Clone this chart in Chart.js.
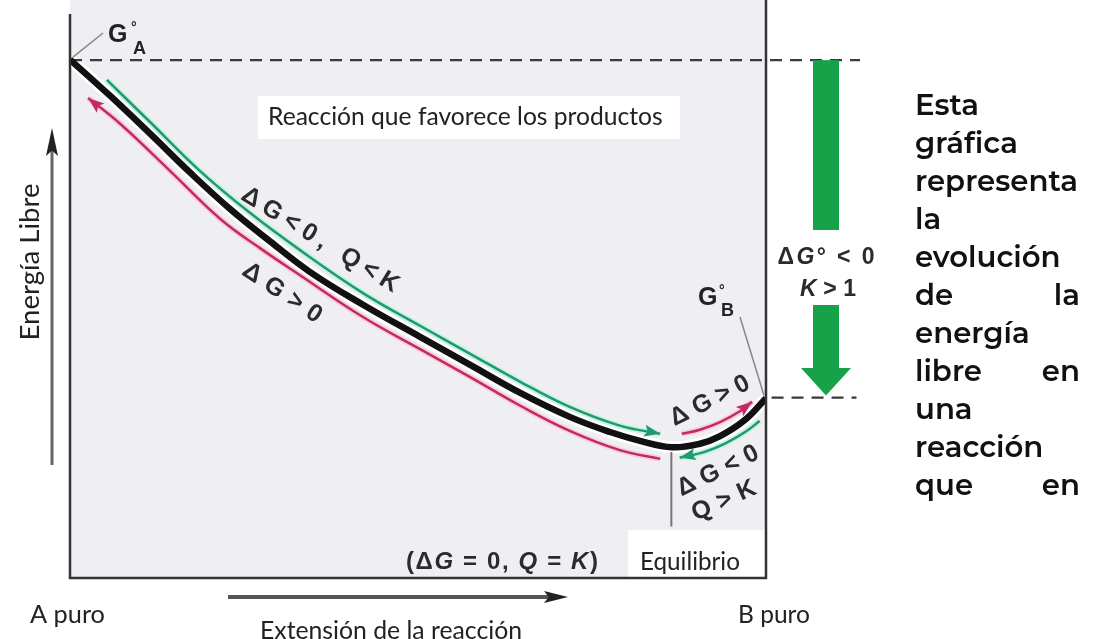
<!DOCTYPE html>
<html><head><meta charset="utf-8">
<script src="https://cdn.jsdelivr.net/npm/chart.js@4.4.1/dist/chart.umd.min.js"></script>
<style>html,body{margin:0;padding:0;background:#fff;overflow:hidden}#wrap{width:1097px;height:639px}</style>
</head><body><div id="wrap"><canvas id="c" width="1097" height="639"></canvas></div>
<script>
// ---- data (x = extensión de la reacción 0..100, y = energía libre, arbitrary units) ----
const extent      = [0, 5.75, 11.5, 17.2, 23.0, 28.7, 34.5, 42.1, 50.3, 57.5, 64.7, 71.8, 77.6, 81.9, 86.5, 90.5, 93.4, 97.0, 100];
const freeEnergy  = [92.2, 86.0, 79.5, 72.9, 66.6, 61.1, 55.8, 50.2, 44.7, 39.9, 35.1, 31.0, 28.4, 26.9, 25.8, 26.4, 27.7, 30.5, 34.2];
const fwdExtent   = [5.3, 11.5, 18.7, 25.9, 33.0, 42.1, 50.3, 57.5, 64.7, 71.8, 79.0, 84.8];
const fwdEnergy   = [88.7, 81.5, 73.1, 65.9, 59.6, 52.2, 46.6, 41.8, 37.0, 32.7, 29.5, 28.1];
const revExtent   = [2.6, 7.2, 14.4, 21.6, 27.3, 33.0, 42.1, 50.3, 57.5, 64.7, 71.8, 79.0, 84.8];
const revEnergy   = [85.6, 81.2, 73.1, 64.9, 59.9, 55.3, 48.1, 42.6, 37.8, 32.9, 28.6, 25.3, 23.8];
const upExtent    = [87.9, 90.5, 93.4, 96.3, 98.0];
const upEnergy    = [28.1, 28.8, 30.1, 32.0, 33.6];
const backExtent  = [99.1, 97.0, 94.1, 91.2, 87.6];
const backEnergy  = [30.3, 28.4, 26.4, 25.0, 24.0];
const eqExtent    = [86.4, 86.4];
const eqEnergy    = [25.0, 12.2];
const GA = 92.1, GB = 34.3;
const refLineA = [0, 113.5];
const refLineB = [100.8, 113.0];
const xAxisRange = [0, 100];
const yAxisRange = [3.4, 100];

const pts = (xs, ys) => xs.map((x, i) => ({x, y: ys[i]}));
const line = (data, color, width, extra) => Object.assign({
  data, borderColor: color, backgroundColor: color, borderWidth: width, showLine: true,
  pointRadius: 0, pointHoverRadius: 0, tension: 0.4, fill: false
}, extra || {});

const GREEN = '#1f9a6e', PINK = '#c42a62';
const datasets = [
  line(pts(extent, freeEnergy), '#111111', 6.5, {order: 1}),
  line(pts(fwdExtent, fwdEnergy), GREEN, 2.5, {order: 2, arrow: 'end'}),
  line(pts(revExtent, revEnergy), PINK, 2.5, {order: 2, arrow: 'start'}),
  line(pts(upExtent, upEnergy), PINK, 2.5, {order: 2, arrow: 'end'}),
  line(pts(backExtent, backEnergy), GREEN, 2.5, {order: 2, arrow: 'end'}),
  line(pts(eqExtent, eqEnergy), '#777777', 2, {order: 3, tension: 0}),
  line([{x: refLineA[0], y: GA}, {x: refLineA[1], y: GA}], '#3a3a3a', 2.2, {order: 4, tension: 0, borderDash: [12, 8], clip: false}),
  line([{x: refLineB[0], y: GB}, {x: refLineB[1], y: GB}], '#3a3a3a', 2.2, {order: 4, tension: 0, borderDash: [12, 8], clip: false}),
  line(pts(fwdExtent, fwdEnergy), '#c8f2e2', 6, {order: 8}),
  line(pts(revExtent, revEnergy), '#f6d0dc', 6, {order: 8}),
  line(pts(upExtent, upEnergy), '#f6d0dc', 6, {order: 8}),
  line(pts(backExtent, backEnergy), '#c8f2e2', 6, {order: 8}),
  line(pts(extent, freeEnergy), '#ffffff', 12, {order: 10})
];

const HUM = "Lato, 'Open Sans', sans-serif";
const ARI = "'Liberation Sans', Arial, sans-serif";
const PARA = "Montserrat, 'Noto Sans', sans-serif";

function fit(ctx, text, fontFn, target) { ctx.font = fontFn(20); return 20 * target / ctx.measureText(text).width; }
function plain(ctx, text, x, y, fontFn, target, align, ang) {
  const s = fit(ctx, text, fontFn, target);
  ctx.save(); ctx.translate(x, y); if (ang) ctx.rotate(ang * Math.PI / 180);
  ctx.font = fontFn(s); ctx.fillStyle = '#222'; ctx.textAlign = align || 'left'; ctx.textBaseline = 'middle';
  ctx.fillText(text, 0, 0); ctx.restore();
}
function spaced(ctx, str, cx, cy, ang, total, size, color, italics) {
  ctx.save(); ctx.translate(cx, cy); ctx.rotate(ang * Math.PI / 180);
  ctx.fillStyle = color; ctx.textBaseline = 'middle'; ctx.textAlign = 'left';
  const chars = [...str];
  const fonts = chars.map(c => ((italics || '').includes(c) ? 'italic ' : '') + 'bold ' + size + 'px ' + ARI);
  const ws = chars.map((c, i) => { ctx.font = fonts[i]; return ctx.measureText(c).width; });
  const sum = ws.reduce((a, b) => a + b, 0);
  const T = total || sum;
  const sp = chars.length > 1 ? (T - sum) / (chars.length - 1) : 0;
  let x = -T / 2;
  chars.forEach((c, i) => { ctx.font = fonts[i]; ctx.fillText(c, x, 0); x += ws[i] + sp; });
  ctx.restore();
}
function head(ctx, tip, from, color, len, half) {
  const a = Math.atan2(tip.y - from.y, tip.x - from.x);
  ctx.save(); ctx.translate(tip.x, tip.y); ctx.rotate(a);
  ctx.fillStyle = color; ctx.beginPath(); ctx.moveTo(0, 0); ctx.lineTo(-len, -half); ctx.lineTo(-len * 0.8, 0); ctx.lineTo(-len, half); ctx.closePath(); ctx.fill();
  ctx.restore();
}

const deco = {
  id: 'deco',
  beforeDraw(chart) {
    const {ctx, chartArea: a} = chart;
    ctx.save();
    ctx.fillStyle = '#ffffff'; ctx.fillRect(0, 0, chart.width, chart.height);
    ctx.fillStyle = '#efeff3'; ctx.fillRect(a.left, 0, a.right - a.left, a.bottom);
    ctx.fillStyle = '#ffffff';
    ctx.fillRect(258, 96, 422, 43);
    ctx.fillRect(628, 530, a.right - 628, a.bottom - 530);
    ctx.restore();
  },
  afterDatasetsDraw(chart) {
    const ctx = chart.ctx;
    chart.data.datasets.forEach((ds, i) => {
      if (!ds.arrow) return;
      const p = chart.getDatasetMeta(i).data;
      const n = p.length;
      if (ds.arrow === 'end') head(ctx, p[n - 1], p[n - 2], ds.borderColor, 16, 6);
      else head(ctx, p[0], p[1], ds.borderColor, 16, 6);
    });
  },
  afterDraw(chart) {
    const {ctx, chartArea: a, scales} = chart;
    const yA = scales.y.getPixelForValue(GA), yB = scales.y.getPixelForValue(GB);
    ctx.save();
    // frame
    ctx.strokeStyle = '#333'; ctx.lineWidth = 2.5;
    ctx.beginPath(); ctx.moveTo(a.left, a.top); ctx.lineTo(a.left, a.bottom); ctx.lineTo(a.right, a.bottom); ctx.lineTo(a.right, 0); ctx.stroke();
    // leader lines
    ctx.strokeStyle = '#888'; ctx.lineWidth = 1.5;
    ctx.beginPath(); ctx.moveTo(a.left + 3, yA - 3); ctx.lineTo(103, 33); ctx.stroke();
    ctx.beginPath(); ctx.moveTo(740, 317); ctx.lineTo(a.right - 2, yB - 2); ctx.stroke();
    // G labels
    ctx.fillStyle = '#222'; ctx.textBaseline = 'alphabetic'; ctx.textAlign = 'left';
    ctx.font = 'bold 25px ' + ARI; ctx.fillText('G', 108, 42);
    ctx.font = 'bold 14px ' + ARI; ctx.fillText('°', 131, 32);
    ctx.font = 'bold 18px ' + ARI; ctx.fillText('A', 133, 54);
    ctx.font = 'bold 25px ' + ARI; ctx.fillText('G', 698, 305);
    ctx.font = 'bold 14px ' + ARI; ctx.fillText('°', 719, 295);
    ctx.font = 'bold 18px ' + ARI; ctx.fillText('B', 721, 316);
    // curve labels
    spaced(ctx, 'ΔG<0, Q<K', 320, 240, 31.5, 180, 25, '#2b2b2b');
    spaced(ctx, 'ΔG>0', 282, 293, 33.5, 90, 25, '#2b2b2b');
    spaced(ctx, 'ΔG>0', 710, 401, -26.5, 86, 25, '#2b2b2b');
    spaced(ctx, 'ΔG<0', 718, 471, -26, 88, 25, '#2b2b2b');
    spaced(ctx, 'Q>K', 724, 501, -24, 68, 25, '#2b2b2b');
    spaced(ctx, '(ΔG = 0, Q = K)', 502, 562, 0, 192, 24, '#2b2b2b', 'GQK');
    // humanist labels
    plain(ctx, 'Reacción que favorece los productos', 268, 117, s => s + 'px ' + HUM, 395);
    plain(ctx, 'Equilibrio', 640, 562, s => s + 'px ' + HUM, 100);
    plain(ctx, 'Energía Libre', 30, 262, s => s + 'px ' + HUM, 157, 'center', -90);
    plain(ctx, 'A puro', 30, 615, s => s + 'px ' + HUM, 75);
    plain(ctx, 'B puro', 738, 615, s => s + 'px ' + HUM, 72);
    plain(ctx, 'Extensión de la reacción', 391, 631, s => s + 'px ' + HUM, 262, 'center');
    // axis arrows
    ctx.strokeStyle = '#666'; ctx.lineWidth = 3;
    ctx.beginPath(); ctx.moveTo(52, 465); ctx.lineTo(52, 145); ctx.stroke();
    head(ctx, {x: 52, y: 128}, {x: 52, y: 200}, '#222', 28, 6);
    ctx.lineWidth = 4; ctx.strokeStyle = '#555';
    ctx.beginPath(); ctx.moveTo(228, 597); ctx.lineTo(552, 597); ctx.stroke();
    head(ctx, {x: 568, y: 597}, {x: 400, y: 597}, '#222', 24, 6);
    // big green arrow
    ctx.fillStyle = '#17a24a';
    ctx.fillRect(813, yA, 26, 230 - yA);
    ctx.fillRect(813, 305, 26, 63);
    ctx.beginPath(); ctx.moveTo(801, 368); ctx.lineTo(851, 368); ctx.lineTo(826, yB - 2); ctx.closePath(); ctx.fill();
    spaced(ctx, 'ΔG° < 0', 826, 258, 0, 97, 23, '#2b2b2b', 'G');
    spaced(ctx, 'K > 1', 828, 290, 0, 56, 23, '#2b2b2b', 'K');
    // paragraph
    const lines = [['Esta'], ['gráfica'], ['representa'], ['la'], ['evolución'], ['de', 'la'], ['energía'], ['libre', 'en'], ['una'], ['reacción'], ['que', 'en']];
    const ps = fit(ctx, 'representa', s => '600 ' + s + 'px ' + PARA, 163);
    ctx.font = '600 ' + ps + 'px ' + PARA; ctx.fillStyle = '#111'; ctx.textBaseline = 'middle';
    lines.forEach((ln, i) => {
      const y = 106 + i * 38;
      ctx.textAlign = 'left'; ctx.fillText(ln[0], 915, y);
      if (ln[1]) { ctx.textAlign = 'right'; ctx.fillText(ln[1], 1080, y); }
    });
    ctx.restore();
  }
};

new Chart(document.getElementById('c'), {
  type: 'scatter',
  data: {datasets},
  options: {
    responsive: false, animation: false, devicePixelRatio: 1,
    layout: {padding: {left: 70, right: 331, top: 14, bottom: 61}},
    plugins: {legend: {display: false}, tooltip: {enabled: false}},
    scales: {
      x: {type: 'linear', display: false, min: xAxisRange[0], max: xAxisRange[1]},
      y: {type: 'linear', display: false, min: yAxisRange[0], max: yAxisRange[1]}
    }
  },
  plugins: [deco]
});
</script>
</body></html>
